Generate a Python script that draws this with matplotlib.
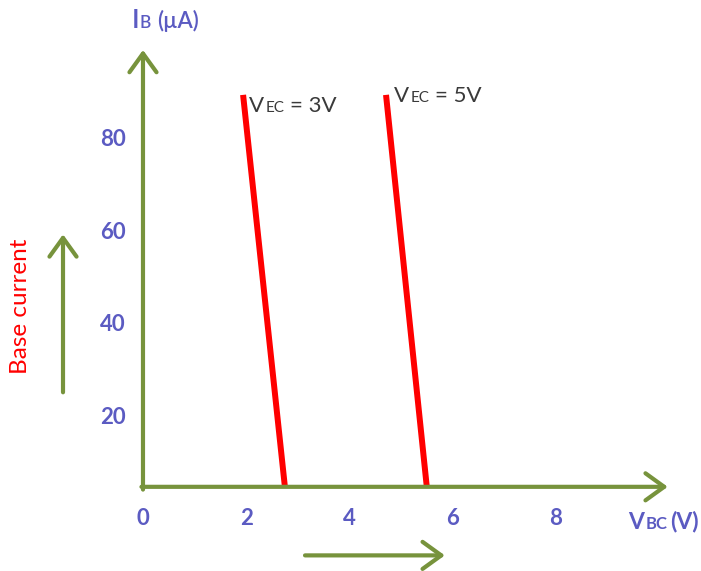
import matplotlib
matplotlib.use("Agg")
import matplotlib.pyplot as plt

# data
x_ticks = [0, 2, 4, 6, 8]
y_ticks = [20, 40, 60, 80]
vbc_3v = [1.94, 2.75]
ib_3v = [89.6, 5.0]
vbc_5v = [4.71, 5.50]
ib_5v = [89.6, 5.0]

green = "#77933C"
blue = "#5B5BC2"
red = "#FF0000"
dark = "#3A3A3A"
font = "Lato"

fig = plt.figure(figsize=(7.01, 5.71), dpi=100)
ax = fig.add_axes([0, 0, 1, 1])
ax.set_xlim(-2.771, 10.814)
ax.set_ylim(-13.17, 110.08)
ax.axis("off")

head = "->,head_length=0.9,head_width=0.65"

# axes with arrow heads
ax.annotate("", xy=(10.17, 5), xytext=(-0.03, 5),
            arrowprops=dict(arrowstyle=head, lw=3, color=green,
                            shrinkA=0, shrinkB=0, mutation_scale=15))
ax.annotate("", xy=(0, 99.3), xytext=(0, 4.4),
            arrowprops=dict(arrowstyle=head, lw=3, color=green,
                            shrinkA=0, shrinkB=0, mutation_scale=15))

# characteristic lines
ax.plot(vbc_3v, ib_3v, color=red, lw=4.3, solid_capstyle="butt")
ax.plot(vbc_5v, ib_5v, color=red, lw=4.3, solid_capstyle="butt")

# tick labels
for v in x_ticks:
    ax.text(v, -1.9, str(v), color=blue, fontsize=16, fontweight="bold",
            family=font, ha="center", va="center")
for i in y_ticks:
    ax.text(-0.58, i, str(i), color=blue, fontsize=16, fontweight="bold",
            family=font, ha="center", va="center")


def label(parts, y, color, weight="normal"):
    # parts: (x, text, size) pieces sharing one baseline
    for x, s, size in parts:
        ax.text(x, y, s, color=color, fontsize=size, family=font,
                fontweight=weight, ha="left", va="baseline")


# axis titles
label([(-0.22, "I", 19), (-0.06, "B", 12.5), (0.27, "(µA)", 16)],
      104.0, blue, "semibold")
label([(9.40, "V", 16.5), (9.74, "BC", 12), (10.22, "(V)", 16.5)],
      -4.0, blue, "bold")

# curve labels
label([(2.06, "V", 16), (2.38, "EC", 11), (2.85, "= 3V", 16)],
      85.9, dark)
label([(4.86, "V", 16), (5.18, "EC", 11), (5.65, "= 5V", 16)],
      88.0, dark)

# direction hints
ax.text(-2.38, 44.0, "Base current", color=red, fontsize=17.5, family=font,
        rotation=90, ha="center", va="center")
ax.annotate("", xy=(-1.55, 59.5), xytext=(-1.55, 25.4),
            arrowprops=dict(arrowstyle=head, lw=3, color=green,
                            shrinkA=0, shrinkB=0, mutation_scale=15))
ax.annotate("", xy=(5.85, -9.8), xytext=(3.14, -9.8),
            arrowprops=dict(arrowstyle=head, lw=3, color=green,
                            shrinkA=0, shrinkB=0, mutation_scale=15))

fig.savefig("out.png", dpi=100)
